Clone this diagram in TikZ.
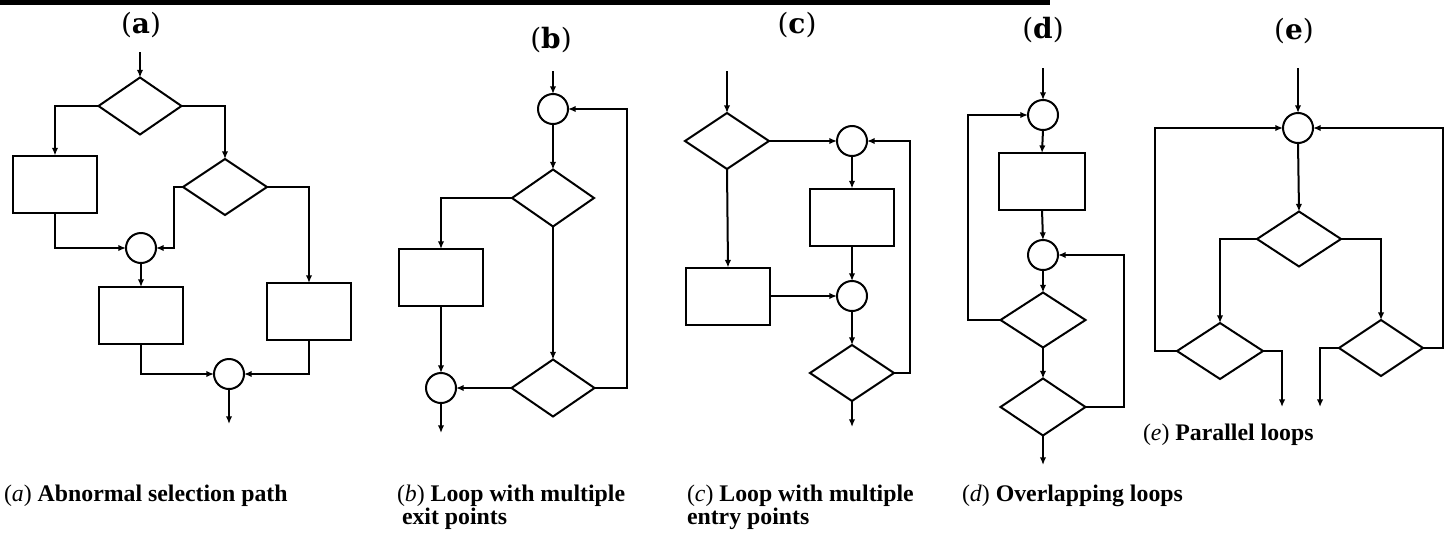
\documentclass[tikz,border=0pt]{standalone}
\usepackage{fontspec}
\setmainfont{Liberation Serif}
\newfontfamily\titlefont{DejaVu Serif}
\usetikzlibrary{shapes.geometric,arrows.meta}
\begin{document}
\begin{tikzpicture}[x=0.5pt,y=-0.5pt,
  line width=1pt,
  every node/.style={inner sep=0pt, outer sep=0pt},
  dia/.style={draw, shape=diamond, minimum width=42pt, minimum height=28pt},
  blk/.style={draw, rectangle, minimum width=42pt, minimum height=28.5pt},
  jn/.style={draw, circle, minimum size=15pt},
  flow/.style={-{Latex[length=3.8pt,width=3.2pt]}},
  ttl/.style={font=\titlefont\fontsize{14}{16}\selectfont},
  captxt/.style={anchor=base west, font=\bfseries\fontsize{11.9}{14}\selectfont},
]
\fill[white] (0,0) rectangle (1454,536);
\useasboundingbox (0,0) rectangle (1454,536);
\fill[black] (0,0) rectangle (1050,5);

% ---------- (a)
\node[ttl] (ta) at (141,25) {(\textbf{a})};
\coordinate (A_in) at (140,52);
\node[dia, minimum width=41.5pt, minimum height=28.5pt] (A_d1) at (140,106) {};
\node[blk] (A_b1) at (55,184) {};
\node[dia] (A_d2) at (225,187) {};
\node[jn] (A_c1) at (141,248) {};
\node[blk] (A_b2) at (141,315.5) {};
\node[blk] (A_b3) at (309,311.5) {};
\node[jn] (A_c2) at (229,374) {};
\coordinate (A_out) at (229,424);
\draw[flow] (A_in) -- (A_d1.north);
\draw[flow] (A_d1.west) -| (A_b1.north);
\draw[flow] (A_d1.east) -| (A_d2.north);
\draw[flow] (A_d2.west) -- ++(-9,0) |- (A_c1.east);
\draw[flow] (A_b1.south) |- (A_c1.west);
\draw[flow] (A_c1.south) -- (A_b2.north);
\draw[flow] (A_d2.east) -| (A_b3.north);
\draw[flow] (A_b2.south) |- (A_c2.west);
\draw[flow] (A_b3.south) |- (A_c2.east);
\draw[flow] (A_c2.south) -- (A_out);

% ---------- (b)
\node[ttl] (tb) at (551,40) {(\textbf{b})};
\coordinate (B_in) at (553,71);
\node[jn] (B_c1) at (553,109) {};
\node[dia, minimum width=41pt, minimum height=28.5pt] (B_d1) at (553,198) {};
\node[blk] (B_b) at (441,277.5) {};
\node[jn] (B_c2) at (441,388) {};
\node[dia, minimum width=41.5pt, minimum height=28.5pt] (B_d2) at (553,388) {};
\coordinate (B_out) at (441,433);
\draw[flow] (B_in) -- (B_c1.north);
\draw[flow] (B_c1.south) -- (B_d1.north);
\draw[flow] (B_d1.west) -| (B_b.north);
\draw[flow] (B_b.south) -- (B_c2.north);
\draw[flow] (B_d1.south) -- (B_d2.north);
\draw[flow] (B_d2.west) -- (B_c2.east);
\draw[flow] (B_d2.east) -- ++(32,0) |- (B_c1.east);
\draw[flow] (B_c2.south) -- (B_out);

% ---------- (c)
\node[ttl] (tc) at (797,25) {(\textbf{c})};
\coordinate (C_in) at (727,71);
\node[dia] (C_d1) at (727,141) {};
\node[jn] (C_c1) at (852,141) {};
\node[blk] (C_b1) at (728,296) {};
\node[jn] (C_c2) at (852,296) {};
\node[blk] (C_b2) at (852,217) {};
\node[dia] (C_d2) at (852,373) {};
\coordinate (C_out) at (852,427);
\draw[flow] (C_in) -- (C_d1.north);
\draw[flow] (C_d1.east) -- (C_c1.west);
\draw[flow] (C_d1.south) -- (C_b1.north);
\draw[flow] (C_b1.east) -- (C_c2.west);
\draw[flow] (C_c1.south) -- (C_b2.north);
\draw[flow] (C_b2.south) -- (C_c2.north);
\draw[flow] (C_c2.south) -- (C_d2.north);
\draw[flow] (C_d2.east) -- ++(16,0) |- (C_c1.east);
\draw[flow] (C_d2.south) -- (C_out);

% ---------- (d)
\node[ttl] (td) at (1043,30) {(\textbf{d})};
\coordinate (D_in) at (1043,68);
\node[jn] (D_c1) at (1043,115) {};
\node[blk, minimum width=43pt] (D_b) at (1042,181.5) {};
\node[jn] (D_c2) at (1043,255) {};
\node[dia, minimum width=42.5pt, minimum height=27.5pt] (D_d1) at (1043,320) {};
\node[dia, minimum width=42.5pt, minimum height=28.5pt] (D_d2) at (1043,407) {};
\coordinate (D_out) at (1043,465);
\draw[flow] (D_in) -- (D_c1.north);
\draw[flow] (D_c1.south) -- (D_b.north);
\draw[flow] (D_b.south) -- (D_c2.north);
\draw[flow] (D_c2.south) -- (D_d1.north);
\draw[flow] (D_d1.west) -- ++(-33,0) |- (D_c1.west);
\draw[flow] (D_d1.south) -- (D_d2.north);
\draw[flow] (D_d2.east) -- ++(38,0) |- (D_c2.east);
\draw[flow] (D_d2.south) -- (D_out);

% ---------- (e)
\node[ttl] (te) at (1294,31) {(\textbf{e})};
\coordinate (E_in) at (1298,68);
\node[jn] (E_c) at (1298,128) {};
\node[dia, minimum height=27.5pt] (E_d1) at (1299,239) {};
\node[dia, minimum width=43pt] (E_dl) at (1220,351) {};
\node[dia] (E_dr) at (1381,348) {};
\coordinate (E_outL) at (1282,407);
\coordinate (E_outR) at (1320,407);
\draw[flow] (E_in) -- (E_c.north);
\draw[flow] (E_c.south) -- (E_d1.north);
\draw[flow] (E_d1.west) -| (E_dl.north);
\draw[flow] (E_d1.east) -| (E_dr.north);
\draw[flow] (E_dl.west) -- ++(-22,0) |- (E_c.west);
\draw[flow] (E_dr.east) -- ++(20,0) |- (E_c.east);
\draw[flow] (E_dl.east) -| (E_outL);
\draw[flow] (E_dr.west) -| (E_outR);

% ---------- captions
\node[captxt] (capA) at (4,501) {{\mdseries(\textit{a})} Abnormal selection path};
\node[captxt] (capB1) at (397,501) {{\mdseries(\textit{b})} Loop with multiple};
\node[captxt] (capB2) at (402,524) {exit points};
\node[captxt] (capC1) at (687,501) {{\mdseries(\textit{c})} Loop with multiple};
\node[captxt] (capC2) at (687,524) {entry points};
\node[captxt] (capD) at (962,501) {{\mdseries(\textit{d})} Overlapping loops};
\node[captxt] (capE) at (1143,440) {{\mdseries(\textit{e})} Parallel loops};
\end{tikzpicture}
\end{document}
